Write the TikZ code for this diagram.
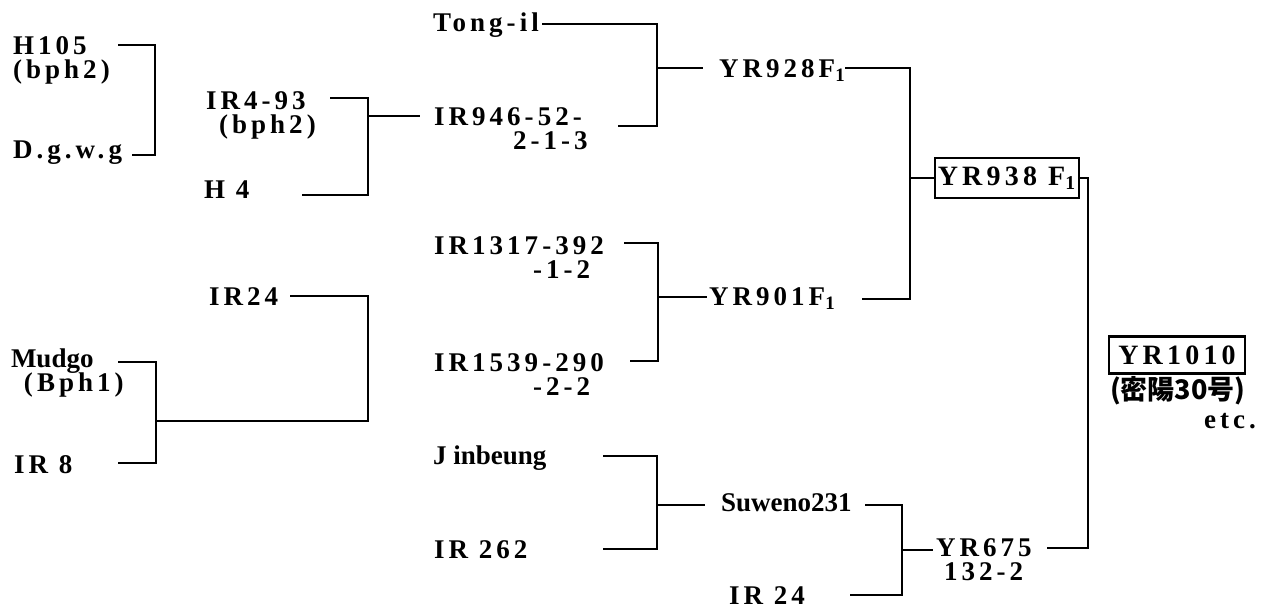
\documentclass[tikz,border=0pt]{standalone}
\usepackage{fontspec}
\setmainfont{Liberation Serif}
\newfontfamily\lblfont[LetterSpace=15]{Liberation Serif}
\newfontfamily\cjkfont{Noto Sans CJK JP}

\begin{document}
\begin{tikzpicture}[x=0.5pt,y=-0.5pt,line width=1pt,
  lbl/.style={inner sep=0pt,anchor=base west,
              font={\lblfont\bfseries\fontsize{13.5}{15}\selectfont}},
  wrd/.style={lbl,font={\bfseries\fontsize{13.5}{15}\selectfont}},
  pick/.style={draw,line width=1.2pt,inner sep=0pt,
               font={\lblfont\bfseries\fontsize{14}{16}\selectfont}}]
  \useasboundingbox (0,0) rectangle (1267,607);

  % parents, left column
  \node[lbl] (h105)   at (12,54)   {H105};
  \node[lbl] (h105b)  at (12,78)   {(bph2)};
  \node[lbl] (dgwg)   at (12,158)  {D.g.w.g};
  \node[wrd] (mudgo)  at (10,367)  {Mudgo};
  \node[lbl] (mudgob) at (23,391)  {(Bph1)};
  \node[lbl] (ir8)    at (13,473)  {IR 8};

  % second column
  \node[lbl] (ir493)  at (205,109) {IR4-93};
  \node[lbl] (ir493b) at (218,133) {(bph2)};
  \node[lbl] (h4)     at (203,198) {H 4};
  \node[lbl] (ir24a)  at (208,305) {IR24};

  % third column
  \node[lbl] (tong)    at (432,31)  {Tong-il};
  \node[lbl] (ir946)   at (433,125) {IR946-52-};
  \node[lbl] (ir946b)  at (512,149) {2-1-3};
  \node[lbl] (ir1317)  at (433,254) {IR1317-392};
  \node[lbl] (ir1317b) at (532,278) {-1-2};
  \node[lbl] (ir1539)  at (433,371) {IR1539-290};
  \node[lbl] (ir1539b) at (532,395) {-2-2};
  \node[wrd] (jin)     at (432,464) {J inbeung};
  \node[lbl] (ir262)   at (433,558) {IR 262};

  % fourth column
  \node[lbl] (yr928)  at (718,77)  {YR928F\textsubscript{1}};
  \node[lbl] (yr901)  at (708,305) {YR901F\textsubscript{1}};
  \node[wrd] (suw)    at (720,511) {Suweno231};
  \node[lbl] (ir24b)  at (728,604) {IR 24};
  \node[lbl] (yr675)  at (935,556) {YR675};
  \node[lbl] (yr675b) at (943,580) {132-2};

  % selected lines
  \node[pick,minimum width=72pt,minimum height=20pt] (yr938) at (1007,178) {YR938 F\textsubscript{1}};
  \node[pick,minimum width=68pt,minimum height=18.5pt] (yr1010) at (1177,355) {YR1010};
  \node[lbl,font={\cjkfont\bfseries\fontsize{13.5}{15}\selectfont}] (miryang) at (1109,399) {(密陽30号)};
  \node[lbl] (etc)     at (1203,428) {etc.};

  % line ends and joints
  \coordinate (e-h105)   at (118,45);
  \coordinate (e-dgwg)   at (132,155);
  \coordinate (j1)       at (155,100);
  \coordinate (e-ir493)  at (330,98);
  \coordinate (e-h4)     at (302,195);
  \coordinate (j2)       at (368,116);
  \coordinate (o2)       at (420,116);
  \coordinate (e-mudgo)  at (118,362);
  \coordinate (e-ir8)    at (118,463);
  \coordinate (j6)       at (156,421);
  \coordinate (e-ir24a)  at (290,296);
  \coordinate (j5)       at (368,421);
  \coordinate (e-tong)   at (542,24);
  \coordinate (e-ir946)  at (618,126);
  \coordinate (j3)       at (657,68);
  \coordinate (o3)       at (703,68);
  \coordinate (e-ir1317) at (624,243);
  \coordinate (e-ir1539) at (630,361);
  \coordinate (j7)       at (658,297);
  \coordinate (o7)       at (707,297);
  \coordinate (e-jin)    at (603,456);
  \coordinate (e-ir262)  at (603,549);
  \coordinate (j8)       at (657,505);
  \coordinate (o8)       at (705,505);
  \coordinate (e-yr928)  at (845,68);
  \coordinate (e-yr901)  at (862,299);
  \coordinate (j4)       at (910,178);
  \coordinate (e-suw)    at (865,505);
  \coordinate (e-ir24b)  at (850,595);
  \coordinate (j9)       at (902,550);
  \coordinate (o9)       at (933,550);
  \coordinate (e-yr675)  at (1047,548);
  \coordinate (j10)      at (1088,360);

  % crosses
  \draw (e-h105) -| (j1) |- (e-dgwg);
  \draw (e-ir493) -| (j2) |- (e-h4);
  \draw (j2) -- (o2);
  \draw (e-mudgo) -| (j6) |- (e-ir8);
  \draw (e-ir24a) -| (j5) -- (j6);
  \draw (e-tong) -| (j3) |- (e-ir946);
  \draw (j3) -- (o3);
  \draw (e-ir1317) -| (j7) |- (e-ir1539);
  \draw (j7) -- (o7);
  \draw (e-jin) -| (j8) |- (e-ir262);
  \draw (j8) -- (o8);
  \draw (e-yr928) -| (j4) |- (e-yr901);
  \draw (j4) -- (yr938.west);
  \draw (e-suw) -| (j9) |- (e-ir24b);
  \draw (j9) -- (o9);
  \draw (yr938.east) -| (j10) |- (e-yr675);
\end{tikzpicture}
\end{document}
